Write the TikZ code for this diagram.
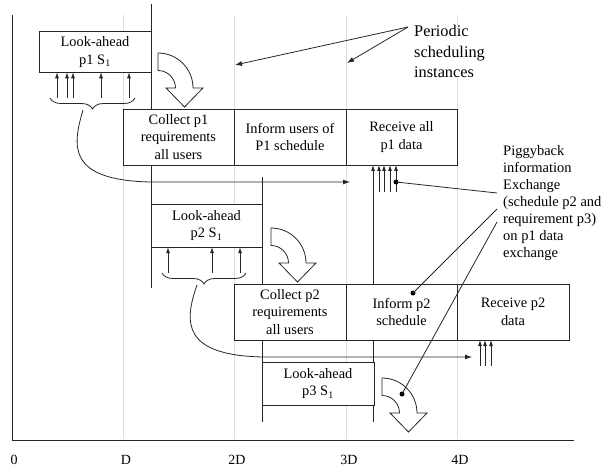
\documentclass[tikz,border=0pt]{standalone}
\usepackage{fontspec}
\setmainfont{Liberation Serif}
\usetikzlibrary{arrows.meta,decorations.pathreplacing}
\pgfdeclarelayer{bg}
\pgfsetlayers{bg,main}
\begin{document}
\begin{tikzpicture}[x=1pt,y=1pt,
  box/.style={draw=black!85, line width=0.8pt, fill=white, align=center, inner sep=0pt, outer sep=0pt, font=\fontsize{14.4}{17.5}\selectfont},
  gridln/.style={draw=black!13, line width=0.6pt},
  ln/.style={draw=black!85, line width=0.8pt},
  arr/.style={ln, -{Latex[length=6pt,width=4pt]}},
  bigarr/.style={ln, -{Latex[length=7pt,width=5pt]}},
  brc/.style={ln, decorate, decoration={brace, amplitude=11pt}},
  dotmark/.style={circle, fill=black, inner sep=0pt, minimum size=5pt},
  lbl/.style={inner sep=0pt, align=left},
  tick/.style={inner sep=0pt, font=\fontsize{14}{16}\selectfont},
  bentarrow/.pic={\draw[ln, fill=white] (0,35) arc[start angle=90, end angle=0, radius=35pt] -- (45,0) -- (26.5,-19) -- (8,0) -- (17.5,0) arc[start angle=0, end angle=90, radius=17.5pt] -- cycle;}
]
\useasboundingbox (0,0) rectangle (605,472);

% boxes
\node[box, minimum width=112pt, minimum height=40.6pt] (la1) at (95,420) {Look-ahead\\p1 S\textsubscript{1}};
\node[box, minimum width=111pt, minimum height=56pt] (c1) at (178.5,335) {Collect p1\\requirements\\all users};
\node[box, minimum width=112pt, minimum height=56pt] (i1) at (290,335) {Inform users of\\P1 schedule};
\node[box, minimum width=111pt, minimum height=56pt] (r1) at (401.5,335) {Receive all\\p1 data};
\node[box, minimum width=111pt, minimum height=43pt] (la2) at (206.5,246.3) {Look-ahead\\p2 S\textsubscript{1}};
\node[box, minimum width=112pt, minimum height=56pt] (c2) at (290,160) {Collect p2\\requirements\\all users};
\node[box, minimum width=111pt, minimum height=56pt] (i2) at (401.5,160) {Inform p2\\schedule};
\node[box, minimum width=112pt, minimum height=56pt] (r2) at (513,160) {Receive p2\\data};
\node[box, minimum width=112pt, minimum height=43pt] (la3) at (318,88.3) {Look-ahead\\p3 S\textsubscript{1}};

% labels
\node[lbl, fill=white, font=\fontsize{16.3}{20.5}\selectfont, anchor=north west] (per) at (414,447) {Periodic\\scheduling\\instances};
\node[lbl, font=\fontsize{14.5}{17}\selectfont, anchor=north west] (pig) at (503,327) {Piggyback\\information\\Exchange\\(schedule p2 and\\requirement p3)\\on p1 data\\exchange};

% axis tick labels
\node[tick] (t0) at (14,12) {0};
\node[tick] (t1) at (126,12) {D};
\node[tick] (t2) at (237,12) {2D};
\node[tick] (t3) at (349,12) {3D};
\node[tick] (t4) at (460,12) {4D};

% coordinates
\coordinate (o) at (12,32);
\coordinate (ytop) at (12,457);
\coordinate (xend) at (574,32);
\coordinate (v1t) at (151,468);
\coordinate (v1b) at (151,184);
\coordinate (v2t) at (262,295);
\coordinate (v2b) at (262,50);
\coordinate (v3b) at (373,50);

\begin{pgfonlayer}{bg}
  \foreach \gx in {123,234,346,457} \draw[gridln] (\gx,457) -- (\gx,33);
  \draw[ln] (ytop) -- (o) -- (xend);
  \draw[ln] (v1t) -- (v1b);
  \draw[ln] (v2t) -- (v2b);
  \draw[arr] (v3b) -- (v3b |- r1.south);
\end{pgfonlayer}

% small up arrows
\foreach \ax in {57,67,73,101,129} {
  \coordinate (ua) at (\ax,374);
  \draw[arr] (ua) -- (ua |- la1.south);
}
\foreach \ax in {168,212,240} {
  \coordinate (ub) at (\ax,199);
  \draw[arr] (ub) -- (ub |- la2.south);
}
\foreach \ax in {379,384,390,396} {
  \coordinate (uc) at (\ax,280);
  \draw[arr] (uc) -- (uc |- r1.south);
}
\foreach \ax in {480,485,491} {
  \coordinate (ud) at (\ax,106);
  \draw[arr] (ud) -- (ud |- r2.south);
}

% braces
\coordinate (b1r) at (135,374); \coordinate (b1l) at (50,374);
\draw[brc] (b1r) -- (b1l);
\coordinate (b2r) at (246,199); \coordinate (b2l) at (162,199);
\draw[brc] (b2r) -- (b2l);

% curved arrows from braces
\coordinate (cs1) at (83,362); \coordinate (ce1) at (350,290);
\draw[bigarr] (cs1) .. controls (72,325) and (68,292) .. (150,290) -- (ce1);
\coordinate (cs2) at (197,187); \coordinate (ce2) at (472,115);
\draw[bigarr] (cs2) .. controls (184,150) and (182,117) .. (262,115) -- (ce2);

% bent hollow arrows
\pic at (158,384) {bentarrow};
\pic at (271,209) {bentarrow};
\pic at (382,59) {bentarrow};

% periodic scheduling arrows
\coordinate (ps) at (408,445);
\coordinate (pa1) at (347,409);
\coordinate (pa2) at (235,407);
\draw[bigarr] (ps) -- (pa1);
\draw[bigarr] (ps) -- (pa2);

% piggyback pointers
\node[dotmark] (d1) at (396,290) {};
\node[dotmark] (d2) at (413,179) {};
\node[dotmark] (d3) at (402,78) {};
\coordinate (pg1) at (497,279);
\coordinate (pg2) at (497,263);
\coordinate (pg3) at (497,250);
\draw[ln] (d1.center) -- (pg1);
\draw[ln] (d2.center) -- (pg2);
\draw[ln] (d3.center) -- (pg3);
\end{tikzpicture}
\end{document}
